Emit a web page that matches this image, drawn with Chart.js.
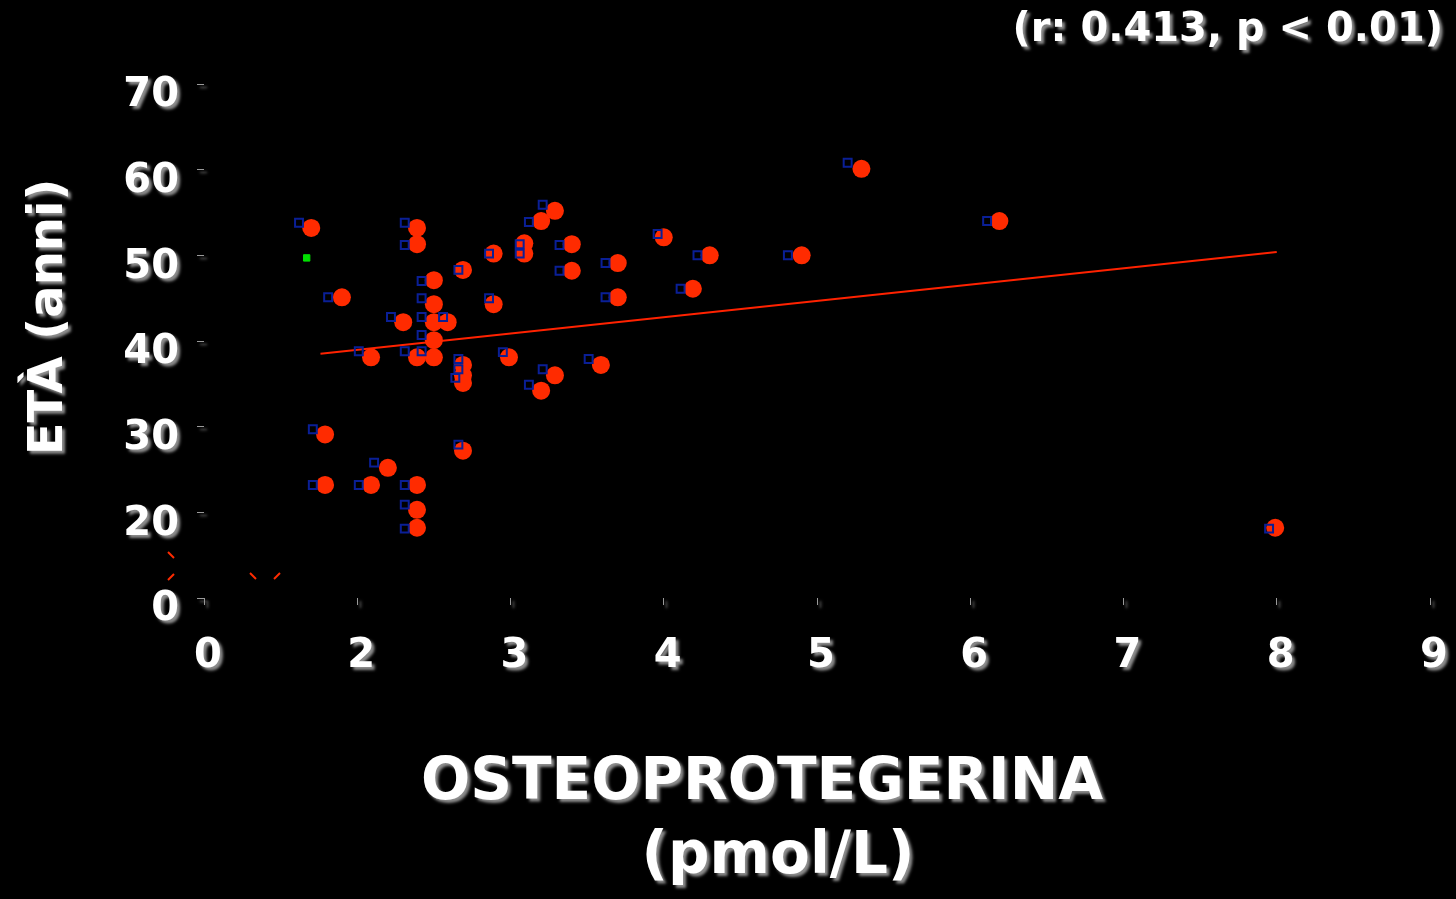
<!DOCTYPE html>
<html>
<head>
<meta charset="utf-8">
<script src="https://cdn.jsdelivr.net/npm/chart.js@4.4.1/dist/chart.umd.min.js"></script>
<style>
html,body{margin:0;padding:0;background:#000;overflow:hidden;}
canvas{display:block;background:#000;}
</style>
</head>
<body>
<canvas id="c" width="1456" height="899"></canvas>
<script>
// ---- data ----
const redX = [1.70,1.90,1.79,1.79,2.09,2.09,2.20,2.30,2.39,2.39,2.39,2.39,2.39,2.39,2.50,2.50,2.50,2.50,2.50,2.59,2.69,2.69,2.69,2.69,2.69,2.89,2.89,2.99,3.09,3.09,3.20,3.29,3.29,3.20,3.40,3.40,3.59,3.70,3.70,4.00,4.19,4.30,4.90,5.29,6.19,7.99];
const redY = [53.2,45.1,29.1,23.2,38.1,23.2,25.2,42.2,53.2,51.3,38.1,23.2,20.3,18.2,47.1,44.3,42.2,40.1,38.1,42.2,48.3,37.2,36.0,35.1,27.2,50.2,44.3,38.1,51.4,50.2,54.0,55.2,36.0,34.2,51.3,48.2,37.2,49.1,45.1,52.1,46.1,50.0,50.0,60.1,54.0,18.2];
const blueX = [1.62,1.81,1.71,1.71,2.01,2.01,2.11,2.22,2.31,2.31,2.31,2.31,2.31,2.31,2.42,2.42,2.42,2.42,2.42,2.56,2.66,2.66,2.66,2.64,2.66,2.86,2.86,2.95,3.06,3.06,3.12,3.21,3.21,3.12,3.32,3.32,3.51,3.62,3.62,3.96,4.11,4.22,4.81,5.20,6.11,7.95];
const blueY = [53.8,45.1,29.7,23.2,38.8,23.2,25.8,42.8,53.8,51.2,38.8,23.2,20.9,18.1,47.0,45.0,42.8,40.7,38.8,42.8,48.3,37.9,36.7,35.7,27.9,50.2,45.0,38.7,51.3,50.2,53.9,55.9,36.7,34.9,51.2,48.2,37.9,49.1,45.1,52.5,46.1,50.0,50.0,60.8,54.0,18.1];
const greenX = [1.67];
const greenY = [49.7];
const fitX = [1.76, 8.0];
const fitY = [38.5, 50.4];
const xTickValues = [1,2,3,4,5,6,7,8,9];
const xTickLabels = ['0','2','3','4','5','6','7','8','9'];
const yTickValues = [10,20,30,40,50,60,70];
const yTickLabels = ['0','20','30','40','50','60','70'];
const titleText = '(r: 0.413, p < 0.01)';
const yTitle = 'ETÀ (anni)';
const xTitleLines = ['OSTEOPROTEGERINA','(pmol/L)'];

const pts = (xs, ys) => xs.map((x, i) => ({x: x, y: ys[i]}));
const FONT = '"DejaVu Sans", "Liberation Sans", sans-serif';

function setShadow(c){
  c.shadowColor = 'rgba(150,150,150,0.95)';
  c.shadowOffsetX = 3; c.shadowOffsetY = 3; c.shadowBlur = 3;
}
function clearShadow(c){
  c.shadowColor = 'rgba(0,0,0,0)';
  c.shadowOffsetX = 0; c.shadowOffsetY = 0; c.shadowBlur = 0;
}

const decor = {
  id: 'decor',
  beforeDraw(chart){
    const c = chart.ctx;
    c.save(); c.fillStyle = '#000'; c.fillRect(0,0,chart.width,chart.height); c.restore();
    setShadow(c);
  },
  beforeDatasetsDraw(chart){ clearShadow(chart.ctx); },
  afterDraw(chart){
    const c = chart.ctx, a = chart.chartArea;
    // axis break marks
    c.save();
    c.strokeStyle = '#ff2b00'; c.lineWidth = 2;
    const seg = (x1,y1,x2,y2) => { c.beginPath(); c.moveTo(x1,y1); c.lineTo(x2,y2); c.stroke(); };
    seg(a.left-36, a.bottom-46, a.left-30, a.bottom-40);
    seg(a.left-36, a.bottom-18, a.left-30, a.bottom-24);
    seg(a.left+46, a.bottom-25, a.left+52, a.bottom-19);
    seg(a.left+70, a.bottom-19, a.left+76, a.bottom-25);
    c.restore();
    // texts
    c.save();
    setShadow(c);
    c.fillStyle = '#fff';
    c.textBaseline = 'middle';
    c.font = 'bold 40px ' + FONT;
    c.textAlign = 'right';
    c.fillText(titleText, 1443, 31);
    c.textAlign = 'center';
    c.font = 'bold 58px ' + FONT;
    c.fillText(xTitleLines[0], 762, 784);
    c.fillText(xTitleLines[1], 778, 858);
    c.translate(50, 317);
    c.rotate(-Math.PI/2);
    c.font = 'bold 48px ' + FONT;
    c.fillText(yTitle, 0, 0);
    c.restore();
  }
};

new Chart(document.getElementById('c'), {
  type: 'scatter',
  data: {
    datasets: [
      { label: 'fit', type: 'line', data: pts(fitX, fitY), borderColor: '#ff2200', borderWidth: 2, pointRadius: 0, fill: false, order: 3 },
      { label: 'red', data: pts(redX, redY), backgroundColor: '#ff2b00', borderWidth: 0, pointRadius: 9, pointHoverRadius: 9, order: 2 },
      { label: 'blue', data: pts(blueX, blueY), pointStyle: 'rect', backgroundColor: 'rgba(0,0,0,0)', borderColor: '#0a1f96', borderWidth: 2, pointRadius: 5.6, order: 1 },
      { label: 'green', data: pts(greenX, greenY), pointStyle: 'rect', backgroundColor: '#00e000', borderColor: '#00e000', borderWidth: 1, pointRadius: 4.5, order: 0 }
    ]
  },
  options: {
    responsive: false,
    animation: false,
    devicePixelRatio: 1,
    layout: { padding: { left: 0, top: 84, right: 26, bottom: 0 } },
    plugins: { legend: { display: false }, tooltip: { enabled: false }, title: { display: false } },
    scales: {
      x: {
        type: 'linear', min: 1, max: 9,
        afterFit: s => { s.height = 301; s.paddingLeft = 0; s.paddingRight = 0; },
        afterBuildTicks: s => { s.ticks = xTickValues.map(v => ({value: v})); },
        ticks: { callback: (v, i) => xTickLabels[i], color: '#fff', font: { family: FONT, weight: 'bold', size: 40 }, padding: 28, labelOffset: 4, maxRotation: 0, autoSkip: false },
        grid: { display: true, drawOnChartArea: false, drawTicks: true, tickLength: 7, color: '#9a9a9a', lineWidth: 1 },
        border: { display: false }
      },
      y: {
        type: 'linear', min: 10, max: 70,
        afterFit: s => { s.width = 204; s.paddingTop = 0; s.paddingBottom = 0; },
        afterBuildTicks: s => { s.ticks = yTickValues.map(v => ({value: v})); },
        ticks: { callback: (v, i) => yTickLabels[i], color: '#fff', font: { family: FONT, weight: 'bold', size: 40 }, padding: 18, labelOffset: 12, autoSkip: false },
        grid: { display: true, drawOnChartArea: false, drawTicks: true, tickLength: 7, color: '#9a9a9a', lineWidth: 1 },
        border: { display: false }
      }
    }
  },
  plugins: [decor]
});
</script>
</body>
</html>
